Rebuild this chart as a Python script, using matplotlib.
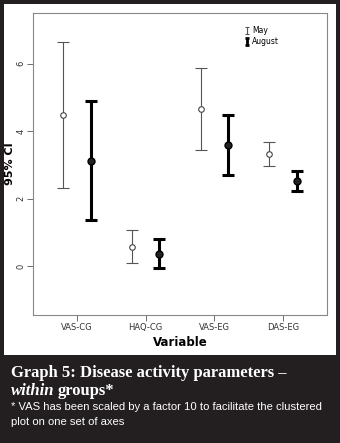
import numpy as np
import matplotlib.pyplot as plt

# data (VAS scaled by 10)
variables = ["VAS-CG", "HAQ-CG", "VAS-EG", "DAS-EG"]
may_mean = [4.47, 0.56, 4.65, 3.32]
may_low = [2.31, 0.09, 3.44, 2.96]
may_high = [6.64, 1.07, 5.87, 3.67]
aug_mean = [3.11, 0.36, 3.59, 2.52]
aug_low = [1.36, -0.06, 2.70, 2.22]
aug_high = [4.89, 0.80, 4.47, 2.81]
yticks = [0, 2, 4, 6]

W, H = 340, 443
fig = plt.figure(figsize=(W / 100, H / 100), dpi=100)
fig.patch.set_facecolor("#231f20")

# white panel behind the plot
panel = fig.add_axes([4 / W, 1 - 355 / H, 332 / W, 351 / H])
panel.set_facecolor("white")
panel.set_xticks([])
panel.set_yticks([])
for s in panel.spines.values():
    s.set_visible(False)

ax = fig.add_axes([33 / W, 1 - 315 / H, 294 / W, 302 / H])
x = np.arange(1, len(variables) + 1)
off = 0.2

may_style = dict(color="#555555", elinewidth=0.8, capsize=4, capthick=0.8)
aug_style = dict(color="black", elinewidth=2.2, capsize=4, capthick=2.2)

mm = np.array(may_mean)
am = np.array(aug_mean)
ax.errorbar(x - off, mm, yerr=[mm - np.array(may_low), np.array(may_high) - mm],
            fmt="o", mfc="white", mec="#444444", ms=4, mew=0.8, zorder=3, **may_style)
ax.errorbar(x + off, am, yerr=[am - np.array(aug_low), np.array(aug_high) - am],
            fmt="o", mfc="#222222", mec="black", ms=5, zorder=3, **aug_style)

# legend handles: plain error bars without markers
h_may = ax.errorbar([np.nan], [np.nan], yerr=[[1], [1]], fmt="none", capsize=1.5,
                    color="#555555", elinewidth=0.8, capthick=0.8)
h_aug = ax.errorbar([np.nan], [np.nan], yerr=[[1], [1]], fmt="none", capsize=1.5,
                    color="black", elinewidth=2.0, capthick=2.0)

ax.set_xlim(0.36, 4.64)
ax.set_ylim(-1.45, 7.5)
ax.set_xticks(x)
ax.set_xticklabels(variables, fontsize=6, color="#333333")
ax.set_yticks(yticks)
ax.set_yticklabels([str(t) for t in yticks], fontsize=6, rotation=90,
                   va="center", color="#333333")
ax.tick_params(length=4, width=0.6, color="#555555", pad=1.5)
for s in ax.spines.values():
    s.set_color("#888888")
    s.set_linewidth(0.8)
ax.set_ylabel("95% CI", fontsize=8, fontweight="bold")
ax.yaxis.set_label_coords(-0.062, 0.5)
ax.set_xlabel("Variable", fontsize=8.5, fontweight="bold", labelpad=3)

ax.legend([h_may, h_aug], ["May", "August"], loc="upper right", fontsize=5.5,
          frameon=False, handlelength=0.5, handleheight=0.5, handletextpad=0.4,
          labelspacing=0.25, bbox_to_anchor=(0.86, 0.98))

# caption
serif = "Liberation Serif"
sans = ["Liberation Sans", "DejaVu Sans"]
fig.text(11 / W, 1 - 373 / H, "Graph 5: Disease activity parameters \u2013",
         color="white", fontsize=12, fontweight="bold", family=serif, va="center")
t = fig.text(11 / W, 1 - 391 / H, "within", color="white", fontsize=12,
             fontweight="bold", style="italic", family=serif, va="center")
fig.canvas.draw()
bb = t.get_window_extent()
fig.text(bb.x1 / W + 3.5 / W, 1 - 391 / H, "groups*", color="white", fontsize=12,
         fontweight="bold", family=serif, va="center")
fig.text(11 / W, 1 - 407 / H,
         "* VAS has been scaled by a factor 10 to facilitate the clustered",
         color="white", fontsize=8.1, family=sans, va="center")
fig.text(11 / W, 1 - 422 / H, "plot on one set of axes", color="white",
         fontsize=8.1, family=sans, va="center")

fig.savefig("out.png", dpi=100, facecolor=fig.get_facecolor())
